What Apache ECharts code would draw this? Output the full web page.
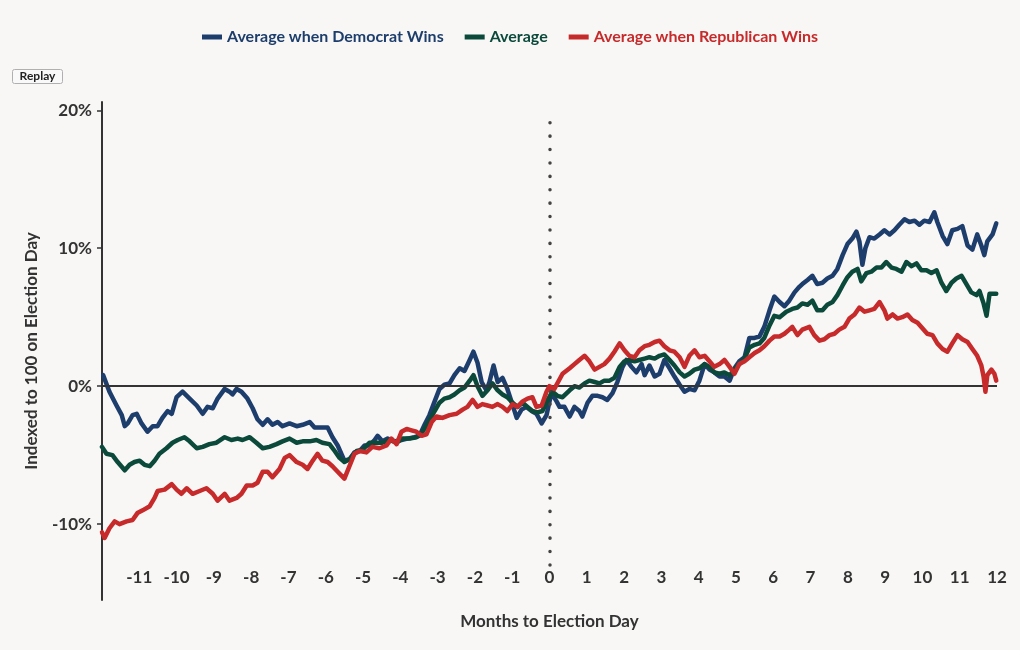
<!DOCTYPE html>
<html>
<head>
<meta charset="utf-8">
<script src="https://cdn.jsdelivr.net/npm/echarts@6/dist/echarts.min.js"></script>
<style>
html,body{margin:0;padding:0;background:#f8f7f5;}
#chart{width:1020px;height:650px;}
</style>
</head>
<body>
<div id="chart"></div>
<script>
// Series names
const seriesNames = ['Average when Democrat Wins', 'Average', 'Average when Republican Wins'];

// [months to election day, % indexed to election day]
const demData = [[-11.97,0.8],[-11.80,-0.4],[-11.61,-1.4],[-11.47,-2.1],[-11.39,-2.9],[-11.31,-2.7],[-11.18,-2.1],[-11.07,-2.0],[-10.94,-2.7],[-10.78,-3.3],[-10.64,-2.9],[-10.51,-2.9],[-10.38,-2.3],[-10.24,-1.8],[-10.13,-2.0],[-10.00,-0.8],[-9.84,-0.4],[-9.65,-0.9],[-9.46,-1.4],[-9.30,-2.0],[-9.17,-1.5],[-9.03,-1.6],[-8.90,-0.9],[-8.71,-0.2],[-8.58,-0.4],[-8.50,-0.6],[-8.39,-0.2],[-8.26,-0.4],[-8.10,-0.9],[-7.96,-1.6],[-7.83,-2.4],[-7.69,-2.8],[-7.56,-2.4],[-7.43,-2.8],[-7.29,-2.6],[-7.16,-2.9],[-6.97,-2.7],[-6.78,-2.9],[-6.62,-2.8],[-6.43,-2.6],[-6.30,-3.0],[-6.11,-3.0],[-5.95,-3.0],[-5.82,-3.7],[-5.68,-4.3],[-5.63,-4.3],[-5.50,-5.4],[-5.36,-5.3],[-5.23,-4.8],[-5.09,-4.7],[-4.96,-4.3],[-4.83,-4.3],[-4.69,-3.9],[-4.61,-3.6],[-4.48,-4.0],[-4.34,-3.8],[-4.16,-4.0],[-3.97,-3.9],[-3.81,-3.8],[-3.62,-3.7],[-3.49,-3.6],[-3.35,-2.8],[-3.22,-2.1],[-3.08,-1.1],[-2.95,-0.2],[-2.82,0.1],[-2.68,0.2],[-2.55,0.8],[-2.41,1.3],[-2.28,1.1],[-2.14,1.9],[-2.04,2.5],[-1.93,1.7],[-1.82,0.3],[-1.69,-0.3],[-1.61,0.3],[-1.50,1.5],[-1.39,0.3],[-1.26,0.6],[-1.13,-0.2],[-1.02,-1.1],[-0.88,-2.3],[-0.75,-1.7],[-0.62,-1.5],[-0.48,-1.8],[-0.35,-2.0],[-0.21,-2.7],[-0.08,-2.1],[0.05,-0.5],[0.19,-1.1],[0.27,-1.5],[0.40,-1.5],[0.54,-2.2],[0.67,-1.5],[0.80,-1.8],[0.88,-2.2],[1.02,-1.2],[1.15,-0.7],[1.29,-0.7],[1.42,-0.8],[1.55,-1.0],[1.69,-0.5],[1.82,0.3],[1.96,1.4],[2.06,1.9],[2.20,1.4],[2.33,1.0],[2.47,1.6],[2.55,0.8],[2.68,1.5],[2.82,0.7],[2.95,0.9],[3.08,1.9],[3.22,1.3],[3.35,0.7],[3.49,0.1],[3.62,-0.4],[3.75,-0.2],[3.89,-0.3],[4.02,0.4],[4.16,1.6],[4.29,1.2],[4.42,1.0],[4.56,0.7],[4.69,0.7],[4.83,0.4],[4.96,1.3],[5.09,1.8],[5.23,2.1],[5.36,3.5],[5.50,3.5],[5.63,3.6],[5.76,4.3],[5.90,5.5],[6.03,6.5],[6.17,6.1],[6.30,5.8],[6.43,6.2],[6.57,6.8],[6.70,7.2],[6.78,7.4],[6.92,7.7],[7.05,8.0],[7.18,7.4],[7.32,7.5],[7.45,7.8],[7.59,8.0],[7.72,8.5],[7.86,9.5],[7.99,10.3],[8.12,10.7],[8.23,11.2],[8.31,10.5],[8.39,8.8],[8.47,10.0],[8.58,10.8],[8.71,10.7],[8.85,11.0],[8.98,11.3],[9.12,11.0],[9.25,11.3],[9.38,11.7],[9.52,12.1],[9.65,11.9],[9.79,12.0],[9.92,11.7],[10.05,12.0],[10.19,11.9],[10.32,12.6],[10.40,11.9],[10.54,10.9],[10.67,10.3],[10.80,11.3],[10.94,11.4],[11.07,11.6],[11.21,10.2],[11.34,9.9],[11.47,11.0],[11.58,10.2],[11.66,9.5],[11.74,10.5],[11.88,11.0],[11.98,11.8]];

const avgData = [[-12.0,-4.4],[-11.88,-4.9],[-11.72,-5.0],[-11.58,-5.5],[-11.39,-6.1],[-11.26,-5.7],[-11.13,-5.5],[-10.99,-5.4],[-10.86,-5.7],[-10.72,-5.8],[-10.59,-5.4],[-10.46,-4.9],[-10.27,-4.5],[-10.11,-4.1],[-9.97,-3.9],[-9.79,-3.7],[-9.65,-4.0],[-9.46,-4.5],[-9.30,-4.4],[-9.12,-4.2],[-8.93,-4.1],[-8.71,-3.7],[-8.53,-3.9],[-8.36,-3.8],[-8.23,-3.9],[-8.04,-3.7],[-7.86,-4.1],[-7.69,-4.5],[-7.51,-4.4],[-7.32,-4.2],[-7.16,-4.0],[-6.97,-3.8],[-6.78,-4.1],[-6.62,-4.0],[-6.43,-4.0],[-6.25,-3.9],[-6.09,-4.1],[-5.90,-4.2],[-5.76,-4.7],[-5.63,-5.2],[-5.50,-5.5],[-5.36,-5.3],[-5.17,-4.7],[-5.01,-4.6],[-4.83,-4.1],[-4.64,-4.1],[-4.48,-4.1],[-4.29,-3.9],[-4.10,-4.1],[-3.94,-3.8],[-3.75,-3.8],[-3.57,-3.7],[-3.40,-3.3],[-3.22,-2.5],[-3.08,-1.8],[-2.95,-1.2],[-2.82,-0.9],[-2.68,-0.8],[-2.55,-0.6],[-2.41,-0.3],[-2.28,-0.1],[-2.14,0.4],[-2.04,0.8],[-1.93,0.0],[-1.80,-0.7],[-1.66,-0.3],[-1.53,0.2],[-1.39,-0.3],[-1.26,-0.6],[-1.13,-0.8],[-0.99,-1.2],[-0.86,-1.5],[-0.72,-1.2],[-0.59,-1.5],[-0.46,-1.8],[-0.32,-1.9],[-0.19,-1.8],[-0.05,-1.0],[0.08,-0.4],[0.21,-0.7],[0.35,-0.8],[0.40,-0.7],[0.54,-0.3],[0.67,0.0],[0.80,-0.1],[0.94,0.2],[1.07,0.4],[1.21,0.3],[1.34,0.2],[1.47,0.4],[1.61,0.4],[1.74,0.6],[1.88,1.4],[2.01,1.8],[2.14,1.9],[2.28,1.8],[2.41,1.9],[2.55,2.0],[2.68,2.1],[2.82,2.0],[2.95,2.2],[3.08,2.3],[3.22,1.9],[3.35,1.5],[3.49,1.0],[3.62,0.7],[3.75,0.9],[3.89,1.2],[4.02,1.3],[4.16,1.6],[4.29,1.4],[4.42,1.0],[4.56,0.9],[4.69,1.0],[4.83,0.8],[4.96,1.2],[5.09,1.6],[5.23,2.0],[5.36,2.8],[5.50,3.0],[5.63,3.1],[5.76,3.5],[5.90,4.4],[6.03,5.1],[6.17,5.0],[6.35,5.4],[6.51,5.6],[6.65,5.7],[6.78,6.0],[6.92,5.9],[7.05,6.2],[7.18,5.5],[7.32,5.5],[7.45,5.9],[7.59,6.1],[7.72,6.6],[7.86,7.3],[7.99,7.9],[8.12,8.3],[8.26,8.5],[8.36,7.6],[8.50,8.2],[8.63,8.3],[8.77,8.6],[8.90,8.6],[9.03,9.0],[9.17,8.6],[9.30,8.5],[9.44,8.3],[9.57,9.0],[9.71,8.7],[9.84,8.9],[9.97,8.4],[10.11,8.4],[10.24,8.2],[10.38,8.4],[10.51,7.5],[10.64,6.9],[10.78,7.5],[10.91,7.8],[11.05,8.0],[11.18,7.4],[11.31,6.8],[11.45,6.6],[11.53,6.9],[11.64,6.0],[11.72,5.1],[11.80,6.7],[11.98,6.7]];

const repData = [[-12.0,-10.6],[-11.93,-11.0],[-11.80,-10.3],[-11.66,-9.8],[-11.53,-10.0],[-11.34,-9.8],[-11.18,-9.7],[-11.05,-9.2],[-10.91,-9.0],[-10.72,-8.7],[-10.59,-8.1],[-10.51,-7.6],[-10.32,-7.5],[-10.13,-7.1],[-10.00,-7.5],[-9.87,-7.8],[-9.73,-7.4],[-9.57,-7.8],[-9.38,-7.6],[-9.20,-7.4],[-9.03,-7.8],[-8.90,-8.3],[-8.71,-7.8],[-8.58,-8.3],[-8.39,-8.1],[-8.26,-7.8],[-8.12,-7.2],[-7.96,-7.2],[-7.83,-7.0],[-7.69,-6.2],[-7.56,-6.2],[-7.43,-6.6],[-7.24,-6.0],[-7.10,-5.2],[-6.97,-5.0],[-6.78,-5.5],[-6.62,-5.7],[-6.49,-6.0],[-6.35,-5.4],[-6.22,-4.9],[-6.09,-5.4],[-5.95,-5.5],[-5.82,-5.8],[-5.68,-6.2],[-5.50,-6.7],[-5.44,-6.3],[-5.23,-4.9],[-5.09,-4.7],[-4.91,-4.8],[-4.75,-4.4],[-4.56,-4.5],[-4.37,-4.3],[-4.24,-3.8],[-4.10,-4.2],[-3.97,-3.3],[-3.83,-3.1],[-3.70,-3.2],[-3.57,-3.3],[-3.43,-3.6],[-3.30,-3.5],[-3.16,-2.6],[-3.03,-2.2],[-2.87,-2.3],[-2.68,-2.1],[-2.49,-2.0],[-2.33,-1.7],[-2.20,-1.5],[-2.06,-1.0],[-1.93,-1.5],[-1.80,-1.3],[-1.66,-1.4],[-1.53,-1.5],[-1.39,-1.3],[-1.26,-1.5],[-1.13,-1.8],[-0.99,-1.3],[-0.86,-1.5],[-0.72,-1.1],[-0.59,-0.9],[-0.46,-0.8],[-0.35,-1.5],[-0.21,-1.4],[-0.08,-0.4],[0.00,0.0],[0.13,-0.2],[0.27,0.5],[0.35,0.9],[0.54,1.3],[0.67,1.6],[0.80,1.9],[0.94,2.2],[1.07,1.8],[1.21,1.2],[1.34,1.4],[1.47,1.6],[1.61,2.0],[1.74,2.5],[1.88,3.1],[2.01,2.6],[2.14,2.2],[2.28,2.1],[2.41,2.6],[2.55,2.9],[2.68,3.0],[2.82,3.2],[2.95,3.3],[3.08,2.9],[3.22,2.6],[3.35,2.5],[3.49,2.1],[3.62,1.4],[3.75,2.2],[3.89,2.6],[4.02,2.1],[4.16,2.2],[4.29,1.8],[4.42,1.4],[4.56,1.6],[4.69,1.9],[4.83,1.4],[4.96,0.9],[5.09,1.6],[5.23,1.8],[5.36,2.1],[5.50,2.4],[5.63,2.6],[5.76,2.9],[5.90,3.3],[6.03,3.6],[6.17,3.6],[6.30,3.8],[6.43,4.1],[6.51,4.3],[6.65,3.7],[6.78,4.1],[6.97,4.3],[7.10,3.7],[7.24,3.3],[7.37,3.4],[7.51,3.7],[7.64,3.8],[7.77,4.1],[7.91,4.3],[8.04,4.9],[8.18,5.2],[8.31,5.7],[8.45,5.4],[8.58,5.5],[8.71,5.6],[8.85,6.1],[8.98,5.5],[9.06,4.9],[9.20,5.2],[9.33,4.9],[9.46,5.0],[9.60,5.2],[9.73,4.8],[9.87,4.6],[10.00,4.2],[10.13,3.8],[10.27,3.7],[10.40,3.1],[10.54,2.7],[10.67,2.5],[10.80,3.1],[10.94,3.7],[11.07,3.4],[11.21,3.2],[11.34,2.7],[11.47,2.2],[11.58,1.5],[11.64,0.7],[11.69,-0.4],[11.74,0.8],[11.85,1.2],[11.93,0.9],[11.98,0.4]];

// Axis ticks
const xTicks = [-12,-11,-10,-9,-8,-7,-6,-5,-4,-3,-2,-1,0,1,2,3,4,5,6,7,8,9,10,11,12];
const yTicks = [-10, 0, 10, 20];

const colors = ['#1d3e6c', '#0b4a3b', '#c62a2a'];
const FONT = 'Lato';
const TXT = '#333333';

const chart = echarts.init(document.getElementById('chart'), null, {renderer: 'canvas'});

const datasets = [demData, avgData, repData];
const series = seriesNames.map((name, i) => ({
  name: name,
  type: 'line',
  data: datasets[i],
  showSymbol: false,
  symbol: 'none',
  lineStyle: {width: 4.5, color: colors[i], join: 'round', cap: 'round'},
  itemStyle: {color: colors[i]},
  z: 3 + i
}));

// reference lines (zero line + election day dotted line)
series.push({
  name: 'refs',
  type: 'line',
  data: [],
  silent: true,
  z: 2,
  markLine: {
    silent: true,
    symbol: 'none',
    animation: false,
    label: {show: false},
    data: [
      [{coord: [-12, 0], lineStyle: {color: '#333', width: 2, type: 'solid'}}, {coord: [12, 0]}],
      [{coord: [0, 19.1], lineStyle: {color: '#444', width: 3.5, type: [0.1, 13.3], cap: 'round'}}, {coord: [0, -13]}]
    ]
  }
});

chart.setOption({
  backgroundColor: '#f8f7f5',
  animation: false,
  textStyle: {fontFamily: FONT},
  legend: {
    top: 24,
    left: 'center',
    itemWidth: 20,
    itemHeight: 5,
    itemGap: 21,
    icon: 'rect',
    data: seriesNames.map((n, i) => ({name: n, textStyle: {color: colors[i]}})),
    textStyle: {fontFamily: FONT, fontWeight: 'bold', fontSize: 16, padding: [0, 0, 0, 0]}
  },
  grid: {left: 102, right: 23, top: 102, bottom: 50, containLabel: false},
  xAxis: {
    type: 'value',
    min: -12,
    max: 12,
    interval: 1,
    name: 'Months to Election Day',
    nameLocation: 'middle',
    nameGap: 13,
    nameTextStyle: {fontFamily: FONT, fontWeight: 'bold', fontSize: 17, color: TXT, verticalAlign: 'top'},
    axisLine: {show: false},
    axisTick: {show: false},
    splitLine: {show: false},
    axisLabel: {
      margin: -31,
      fontFamily: FONT, fontWeight: 'bold', fontSize: 17, color: TXT,
      formatter: v => (v === xTicks[0] ? '' : String(v))
    }
  },
  yAxis: {
    type: 'value',
    min: -15.5,
    max: 20.6,
    name: 'Indexed to 100 on Election Day',
    nameLocation: 'middle',
    nameGap: 62,
    nameTextStyle: {fontFamily: FONT, fontWeight: 'bold', fontSize: 17, color: TXT},
    axisLine: {show: true, onZero: false, lineStyle: {color: '#333', width: 2}},
    axisTick: {show: true, length: 5, lineStyle: {color: '#333', width: 1.5}, customValues: yTicks},
    splitLine: {show: false},
    axisLabel: {
      margin: 10,
      fontFamily: FONT, fontWeight: 'bold', fontSize: 17, color: TXT,
      customValues: yTicks,
      formatter: v => v + '%'
    }
  },
  graphic: [{
    type: 'group',
    left: 12,
    top: 69,
    children: [
      {type: 'rect', shape: {x: 0, y: 0, width: 50, height: 14, r: 2}, style: {fill: '#f9f9f9', stroke: '#b0b0b0', lineWidth: 1}},
      {type: 'text', style: {x: 25, y: 7, text: 'Replay', fontFamily: FONT, fontWeight: 'bold', fontSize: 12, fill: '#222', align: 'center', verticalAlign: 'middle'}}
    ]
  }],
  series: series
});
</script>
</body>
</html>
